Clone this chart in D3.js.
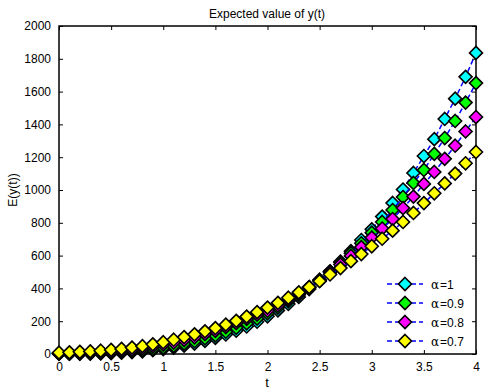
<!DOCTYPE html>
<html>
<head>
<meta charset="UTF-8">
<title>Expected value of y(t)</title>
<script src="https://cdn.jsdelivr.net/npm/d3@7"></script>
<style>
  body { margin: 0; background: #fff; }
  text { font-family: "Liberation Sans", Arial, sans-serif; font-size: 12px; fill: #000; }
  .tick line { stroke: #000; }
  .domain { display: none; }
  .series path.line { fill: none; stroke: #0000ff; stroke-width: 1.5px; stroke-dasharray: 5,3; }
  .series path.mark { stroke: #000; stroke-width: 1.6px; }
  .greek { font-family: "DejaVu Serif", "Liberation Serif", serif; }
</style>
</head>
<body>
<svg width="490" height="391"></svg>
<script>

// time points 0..4 step 0.1
var tValues = [0,0.1,0.2,0.3,0.4,0.5,0.6,0.7,0.8,0.9,1,1.1,1.2,1.3,1.4,1.5,1.6,1.7,1.8,1.9,2,
               2.1,2.2,2.3,2.4,2.5,2.6,2.7,2.8,2.9,3,3.1,3.2,3.3,3.4,3.5,3.6,3.7,3.8,3.9,4];

// E(y(t)) for each alpha
var alpha1 = [2,2,3,3,4,6,8,12,16,23,30,39,51,64,80,98,119,142,168,197,230,
              266,305,348,396,447,503,563,627,695,760,838,921,1003,1104,1207,1310,1433,1557,1690,1836];
var alpha09 = [2,2,3,4,6,8,11,16,22,30,39,50,63,78,95,114,136,160,187,216,248,
               283,321,362,406,453,504,558,615,675,740,805,878,957,1043,1122,1220,1317,1421,1533,1652];
var alpha08 = [3,4,5,7,10,14,19,26,35,45,57,70,85,102,121,141,164,188,214,240,264,
               296,331,368,408,450,497,546,598,652,710,765,823,890,960,1037,1110,1190,1270,1357,1445];
var alpha07 = [8,10,13,16,20,25,31,39,48,59,72,87,103,120,138,158,179,202,228,255,283,
               312,343,376,408,444,485,524,566,609,657,703,752,805,860,920,980,1040,1100,1163,1232];

var seriesNames = ["\u03b1=1", "\u03b1=0.9", "\u03b1=0.8", "\u03b1=0.7"];
var seriesColors = ["#00ffff", "#00ff00", "#ff00ff", "#ffff00"];
var seriesValues = [alpha1, alpha09, alpha08, alpha07];

var xTicks = [0,0.5,1,1.5,2,2.5,3,3.5,4];
var yTicks = [0,200,400,600,800,1000,1200,1400,1600,1800,2000];

var svg = d3.select("svg");
var plotLeft = 59, plotRight = 476, plotTop = 26, plotBottom = 354;

var x = d3.scaleLinear().domain([0, 4]).range([plotLeft, plotRight]);
var y = d3.scaleLinear().domain([0, 2000]).range([plotBottom, plotTop]);

// axes, ticks inward on all four sides
svg.append("g").attr("transform", "translate(0," + plotBottom + ")")
    .call(d3.axisBottom(x).tickValues(xTicks).tickSizeInner(-4).tickSizeOuter(0).tickPadding(8)
        .tickFormat(function(d) { return d; }));
svg.append("g").attr("transform", "translate(0," + plotTop + ")")
    .call(d3.axisTop(x).tickValues(xTicks).tickSizeInner(-4).tickSizeOuter(0).tickFormat(""));
svg.append("g").attr("transform", "translate(" + plotLeft + ",0)")
    .call(d3.axisLeft(y).tickValues(yTicks).tickSizeInner(-4).tickSizeOuter(0).tickPadding(8)
        .tickFormat(function(d) { return d; }));
svg.append("g").attr("transform", "translate(" + plotRight + ",0)")
    .call(d3.axisRight(y).tickValues(yTicks).tickSizeInner(-4).tickSizeOuter(0).tickFormat(""));

svg.selectAll(".tick text").style("font-size", "12px").style("font-family", "'Liberation Sans', Arial, sans-serif");

svg.append("rect")
    .attr("x", plotLeft).attr("y", plotTop)
    .attr("width", plotRight - plotLeft).attr("height", plotBottom - plotTop)
    .attr("fill", "none").attr("stroke", "#000").attr("stroke-width", 1.5);

var line = d3.line()
    .x(function(d, i) { return x(tValues[i]); })
    .y(function(d) { return y(d); });

var diamond = "M0,-6.5L6.5,0L0,6.5L-6.5,0Z";

seriesValues.forEach(function(vals, k) {
    var g = svg.append("g").attr("class", "series");
    g.append("path").attr("class", "line").attr("d", line(vals));
    g.selectAll("path.mark")
        .data(vals)
        .enter().append("path")
        .attr("class", "mark")
        .attr("d", diamond)
        .attr("fill", seriesColors[k])
        .attr("transform", function(d, i) { return "translate(" + x(tValues[i]) + "," + y(d) + ")"; });
});

// legend
var legend = svg.append("g");
seriesNames.forEach(function(name, k) {
    var ly = 284 + k * 19;
    var row = legend.append("g").attr("class", "series");
    row.append("path").attr("class", "line").attr("d", "M387," + ly + "L423," + ly);
    row.append("path").attr("class", "mark").attr("d", diamond)
        .attr("fill", seriesColors[k])
        .attr("transform", "translate(405," + ly + ")");
    var t = row.append("text").attr("x", 431).attr("y", ly + 5);
    t.append("tspan").attr("class", "greek").text(name.charAt(0));
    t.append("tspan").attr("dx", 1).text(name.slice(1));
});

// title and axis labels
svg.append("text").attr("x", 267).attr("y", 18).attr("text-anchor", "middle")
    .text("Expected value of y(t)");
svg.append("text").attr("x", 267).attr("y", 387).attr("text-anchor", "middle").style("font-size", "13px")
    .text("t");
svg.append("text").attr("transform", "translate(17,190) rotate(-90)").attr("text-anchor", "middle")
    .text("E(y(t))");

</script>
</body>
</html>
